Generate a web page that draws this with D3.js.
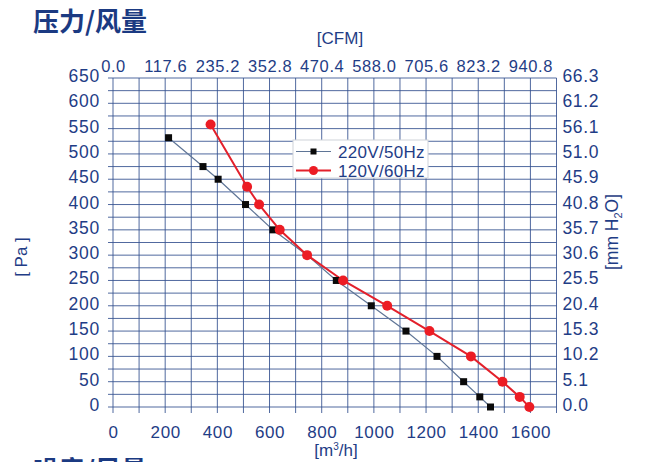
<!DOCTYPE html>
<html>
<head>
<meta charset="utf-8">
<script src="https://cdn.jsdelivr.net/npm/d3@7"></script>
<style>
  html, body { margin: 0; padding: 0; background: #ffffff; }
  svg { display: block; }
</style>
</head>
<body>
<svg id="chart" width="656" height="462"></svg>
<script>
// ---- data ----
const seriesNames = ["220V/50Hz", "120V/60Hz"];
const flow220 = [213, 345, 403, 508, 613, 744, 856, 990, 1123, 1242, 1344, 1406, 1447];
const pres220 = [532, 475, 450, 400, 350, 300, 250, 200, 150, 100, 50, 20, 0];
const flow120 = [374, 514, 560, 639, 744, 882, 1051, 1213, 1372, 1493, 1559, 1596];
const pres120 = [558, 435, 400, 350, 300, 250, 200, 150, 100, 50, 20, 0];
const bottomTicks = [0, 200, 400, 600, 800, 1000, 1200, 1400, 1600];
const topTickLabels = ["0.0", "117.6", "235.2", "352.8", "470.4", "588.0", "705.6", "823.2", "940.8"];
const leftTicks = [0, 50, 100, 150, 200, 250, 300, 350, 400, 450, 500, 550, 600, 650];
const rightTickLabels = ["0.0", "5.1", "10.2", "15.3", "20.4", "25.5", "30.6", "35.7", "40.8", "45.9", "51.0", "56.1", "61.2", "66.3"];

// ---- layout ----
const svg = d3.select("#chart");
const L = 113, R = 556.5, T = 78, B = 407;
const x = d3.scaleLinear().domain([0, 1700]).range([L, R]);
const y = d3.scaleLinear().domain([0, 650]).range([B, T]);
const navy = "#1f3d86";
const gridC = "#33508f";
const font = "'Liberation Sans', Arial, sans-serif";

// title
svg.append("text").attr("x", 33).attr("y", 31)
  .attr("font-family", "'Noto Sans CJK SC', sans-serif").attr("font-weight", "bold")
  .attr("font-size", 26).attr("fill", "#1b3a82").text("压力/风量");
// cut-off heading at bottom (partly outside picture, as in reference)
svg.append("text").attr("x", 33).attr("y", 480)
  .attr("font-family", "'Noto Sans CJK SC', sans-serif").attr("font-weight", "bold")
  .attr("font-size", 26).attr("fill", "#1b3a82").text("噪音/风量");

// grid: vertical lines every 100, extending as ticks below
const g = svg.append("g");
g.selectAll("line.v").data(d3.range(0, 1701, 100)).join("line")
  .attr("x1", d => x(d)).attr("x2", d => x(d))
  .attr("y1", T).attr("y2", B + 6)
  .attr("stroke", gridC).attr("stroke-width", 1).attr("opacity", 0.85);
g.selectAll("line.h").data(d3.range(0, 651, 25)).join("line")
  .attr("x1", L - 5).attr("x2", R)
  .attr("y1", d => y(d)).attr("y2", d => y(d))
  .attr("stroke", gridC).attr("stroke-width", 1).attr("opacity", 0.85);

// axes labels (bottom)
const bottomAxis = d3.axisBottom(x).tickValues(bottomTicks).tickSize(0).tickPadding(0).tickFormat(d3.format("d"));
const ba = svg.append("g").attr("transform", `translate(0,${B + 31})`).call(bottomAxis);
ba.select(".domain").remove();
ba.selectAll("text").attr("font-family", font).attr("font-size", 17).attr("fill", navy).attr("dy", "0").attr("letter-spacing", 0.6);

// top axis (CFM equivalent at same positions)
const topAxis = d3.axisTop(x).tickValues(bottomTicks).tickSize(0).tickPadding(0)
  .tickFormat((d, i) => topTickLabels[i]);
const ta = svg.append("g").attr("transform", `translate(0,${T - 6})`).call(topAxis);
ta.select(".domain").remove();
ta.selectAll("text").attr("font-family", font).attr("font-size", 16.5).attr("fill", navy).attr("dy", "0").attr("letter-spacing", 0.6);

// left axis
const leftAxis = d3.axisLeft(y).tickValues(leftTicks).tickSize(0).tickPadding(13).tickFormat(d3.format("d"));
const la = svg.append("g").attr("transform", `translate(${L},0)`).call(leftAxis);
la.select(".domain").remove();
la.selectAll("text").attr("font-family", font).attr("font-size", 17.5).attr("fill", navy).attr("dy", "0.2em").attr("letter-spacing", 0.8);

// right axis
const rightAxis = d3.axisRight(y).tickValues(leftTicks).tickSize(0).tickPadding(6)
  .tickFormat((d, i) => rightTickLabels[i]);
const ra = svg.append("g").attr("transform", `translate(${R},0)`).call(rightAxis);
ra.select(".domain").remove();
ra.selectAll("text").attr("font-family", font).attr("font-size", 17.5).attr("fill", navy).attr("dy", "0.2em").attr("letter-spacing", 0.6);

// axis titles
svg.append("text").attr("x", 340).attr("y", 44).attr("text-anchor", "middle")
  .attr("font-family", font).attr("font-size", 17).attr("fill", navy).text("[CFM]");
const mt = svg.append("text").attr("x", 336).attr("y", 456).attr("text-anchor", "middle")
  .attr("font-family", font).attr("font-size", 17).attr("fill", navy);
mt.append("tspan").text("[m");
mt.append("tspan").attr("font-size", 10).attr("dy", -6).text("3");
mt.append("tspan").attr("dy", 6).text("/h]");
svg.append("text").attr("transform", "translate(27,257) rotate(-90)").attr("text-anchor", "middle")
  .attr("font-family", font).attr("font-size", 17).attr("fill", navy).attr("xml:space", "preserve").text("[ Pa ]");
const rt = svg.append("text").attr("transform", "translate(618,232) rotate(-90)").attr("text-anchor", "middle")
  .attr("font-family", font).attr("font-size", 17.5).attr("fill", navy);
rt.append("tspan").text("[mm H");
rt.append("tspan").attr("font-size", 11).attr("dy", 4).text("2");
rt.append("tspan").attr("dy", -4).text("O]");

// series
const line = d3.line().x(d => x(d[0])).y(d => y(d[1]));
const s220 = flow220.map((f, i) => [f, pres220[i]]);
const s120 = flow120.map((f, i) => [f, pres120[i]]);

svg.append("path").datum(s220).attr("d", line).attr("fill", "none")
  .attr("stroke", "#5f7596").attr("stroke-width", 1.2);
svg.append("path").datum(s120).attr("d", line).attr("fill", "none")
  .attr("stroke", "#e3202b").attr("stroke-width", 2);

svg.selectAll("rect.m220").data(s220).join("rect")
  .attr("x", d => x(d[0]) - 3.5).attr("y", d => y(d[1]) - 3.5)
  .attr("width", 7).attr("height", 7).attr("fill", "#0a0a0a");
svg.selectAll("circle.m120").data(s120).join("circle")
  .attr("cx", d => x(d[0])).attr("cy", d => y(d[1])).attr("r", 5)
  .attr("fill", "#ec1c24");

// legend
const lg = svg.append("g");
lg.append("rect").attr("x", 293).attr("y", 140).attr("width", 135).attr("height", 38)
  .attr("fill", "#ffffff").attr("stroke", "#cfd3da").attr("stroke-width", 1);
const rows = [
  { name: seriesNames[0], y: 151.5, stroke: "#5f7596", sw: 1.2, marker: "rect" },
  { name: seriesNames[1], y: 170.5, stroke: "#e3202b", sw: 2, marker: "circle" }
];
rows.forEach(r => {
  lg.append("line").attr("x1", 296).attr("x2", 331).attr("y1", r.y).attr("y2", r.y)
    .attr("stroke", r.stroke).attr("stroke-width", r.sw);
  if (r.marker === "rect") {
    lg.append("rect").attr("x", 313.5 - 3).attr("y", r.y - 3).attr("width", 6).attr("height", 6).attr("fill", "#0a0a0a");
  } else {
    lg.append("circle").attr("cx", 313.5).attr("cy", r.y).attr("r", 4.5).attr("fill", "#ec1c24");
  }
  lg.append("text").attr("x", 338).attr("y", r.y + 6).attr("font-family", font)
    .attr("font-size", 17).attr("fill", navy).attr("letter-spacing", 0.3).text(r.name);
});
</script>
</body>
</html>
